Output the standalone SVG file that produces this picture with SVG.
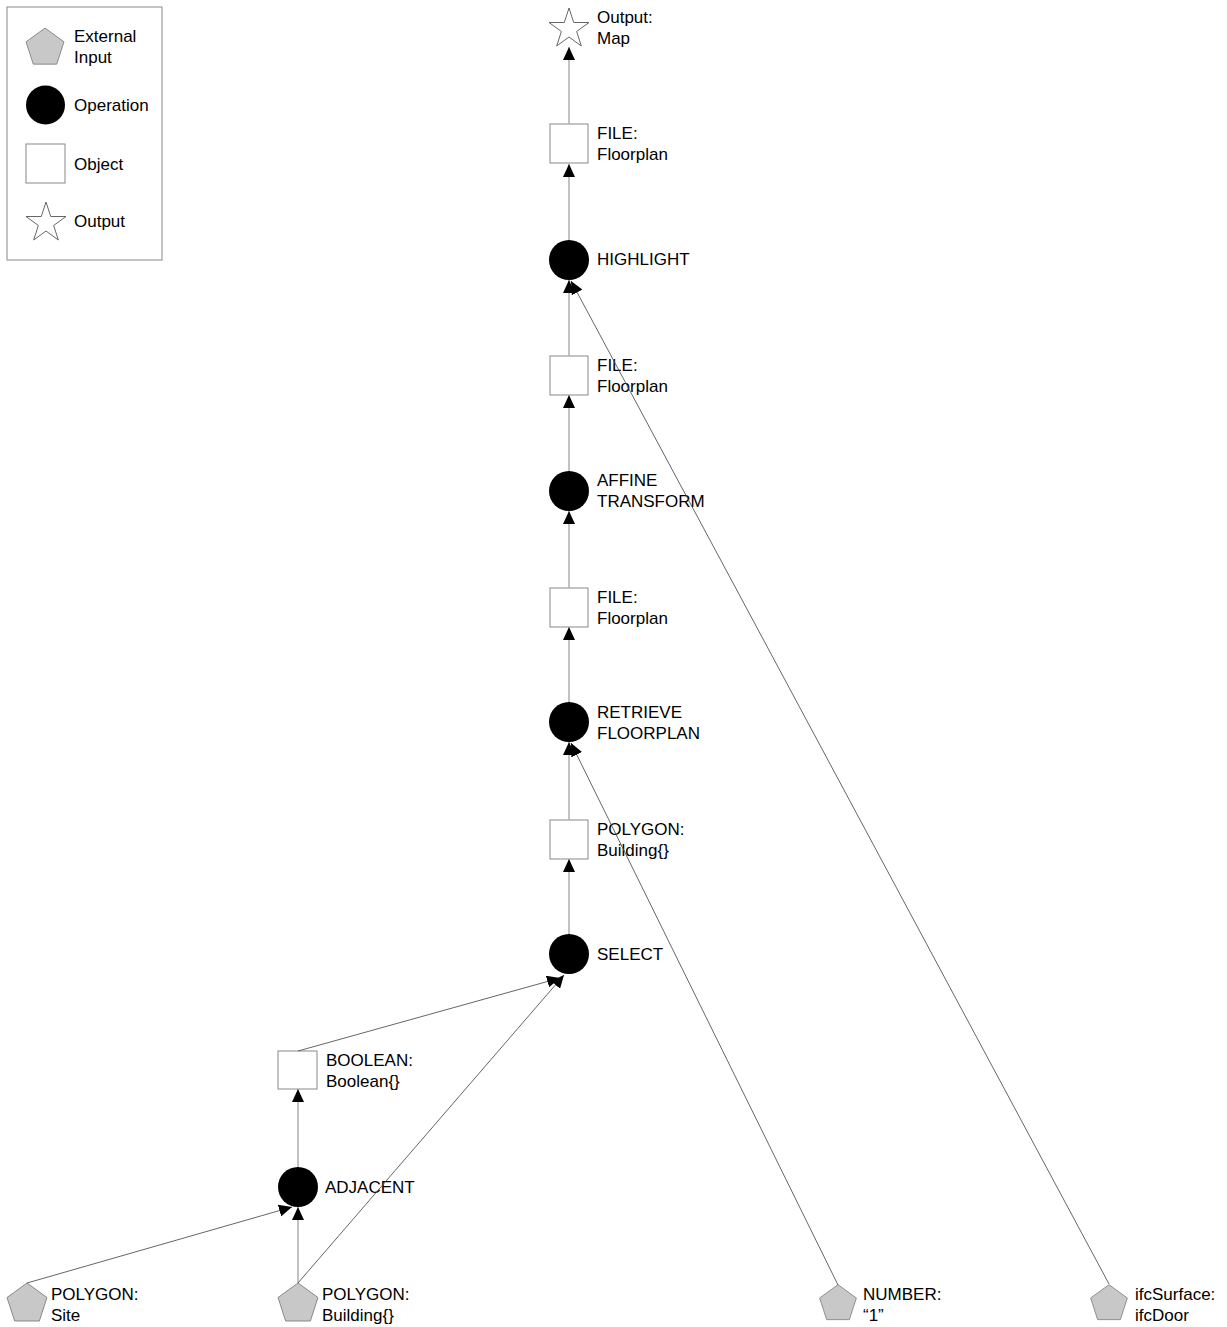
<svg xmlns="http://www.w3.org/2000/svg" xmlns:xlink="http://www.w3.org/1999/xlink" width="1227" height="1327" viewBox="0 0 1227 1327">
<style>
text{font-family:"Liberation Sans",Arial,sans-serif;font-size:17px;fill:#000}
.obj{fill:#fff;stroke:#888;stroke-width:1}
.op{fill:#000}
.inp{fill:#c8c8c8;stroke:#888;stroke-width:1}
.out{fill:#fff;stroke:#666;stroke-width:1}
.v{stroke:#b3b3b3;stroke-width:1.6;fill:none}
.d{stroke:#555;stroke-width:0.9;fill:none}
</style>
<defs>
<polygon id="pent" points="0,-21 19.97,-6.49 12.34,16.99 -12.34,16.99 -19.97,-6.49"/>
<polygon id="star" points="0,-21 4.72,-6.5 19.97,-6.49 7.64,2.48 12.34,16.99 0,8.03 -12.34,16.99 -7.64,2.48 -19.97,-6.49 -4.72,-6.5"/>
<marker id="ah" markerUnits="userSpaceOnUse" markerWidth="14" markerHeight="12" refX="13" refY="6" orient="auto" viewBox="0 0 14 12">
<path d="M0,0 L13,6 L0,12 z" fill="#000"/>
</marker>
</defs>
<rect width="1227" height="1327" fill="#fff"/>
<g id="legend">
<rect x="7" y="7" width="155" height="253" fill="#fff" stroke="#888" stroke-width="1"/>
<use xlink:href="#pent" class="inp" transform="translate(45,48) scale(0.95)"/>
<text x="74" y="42">External</text>
<text x="74" y="63">Input</text>
<circle cx="45.5" cy="105" r="19.5" class="op"/>
<text x="74" y="111">Operation</text>
<rect x="26" y="144" width="39" height="39" class="obj"/>
<text x="74" y="170">Object</text>
<use xlink:href="#star" class="out" transform="translate(46,223)"/>
<text x="74" y="227">Output</text>
</g>
<g id="n_output">
<use xlink:href="#star" class="out" transform="translate(569,29)"/>
<text x="597" y="23">Output:</text>
<text x="597" y="44">Map</text>
</g>
<g id="n_file1">
<rect x="550" y="124" width="38" height="39" class="obj"/>
<text x="597" y="139">FILE:</text>
<text x="597" y="160">Floorplan</text>
</g>
<g id="n_highlight">
<circle cx="569" cy="260" r="20" class="op"/>
<text x="597" y="265">HIGHLIGHT</text>
</g>
<g id="n_file2">
<rect x="550" y="356" width="38" height="39" class="obj"/>
<text x="597" y="371">FILE:</text>
<text x="597" y="392">Floorplan</text>
</g>
<g id="n_affine">
<circle cx="569" cy="491" r="20" class="op"/>
<text x="597" y="486">AFFINE</text>
<text x="597" y="507">TRANSFORM</text>
</g>
<g id="n_file3">
<rect x="550" y="588" width="38" height="39" class="obj"/>
<text x="597" y="603">FILE:</text>
<text x="597" y="624">Floorplan</text>
</g>
<g id="n_retrieve">
<circle cx="569" cy="722" r="20" class="op"/>
<text x="597" y="718">RETRIEVE</text>
<text x="597" y="739">FLOORPLAN</text>
</g>
<g id="n_polybuilding">
<rect x="550" y="820" width="38" height="39" class="obj"/>
<text x="597" y="835">POLYGON:</text>
<text x="597" y="856">Building{}</text>
</g>
<g id="n_select">
<circle cx="569" cy="954" r="20" class="op"/>
<text x="597" y="960">SELECT</text>
</g>
<g id="n_boolean">
<rect x="278" y="1051" width="39" height="38" class="obj"/>
<text x="326" y="1066">BOOLEAN:</text>
<text x="326" y="1087">Boolean{}</text>
</g>
<g id="n_adjacent">
<circle cx="298" cy="1187" r="20" class="op"/>
<text x="325" y="1193">ADJACENT</text>
</g>
<g id="n_site">
<use xlink:href="#pent" class="inp" transform="translate(27,1304)"/>
<text x="51" y="1300">POLYGON:</text>
<text x="51" y="1321">Site</text>
</g>
<g id="n_building">
<use xlink:href="#pent" class="inp" transform="translate(298,1304)"/>
<text x="322" y="1300">POLYGON:</text>
<text x="322" y="1321">Building{}</text>
</g>
<g id="n_number">
<use xlink:href="#pent" class="inp" transform="translate(838,1304) scale(0.92)"/>
<text x="863" y="1300">NUMBER:</text>
<text x="863" y="1321">“1”</text>
</g>
<g id="n_ifc">
<use xlink:href="#pent" class="inp" transform="translate(1109,1304) scale(0.92)"/>
<text x="1135" y="1300">ifcSurface:</text>
<text x="1135" y="1321">ifcDoor</text>
</g>
<g id="connectors">
<line x1="569" y1="124" x2="569" y2="47" class="v" marker-end="url(#ah)"/>
<line x1="569" y1="240" x2="569" y2="164" class="v" marker-end="url(#ah)"/>
<line x1="569" y1="356" x2="569" y2="280" class="v" marker-end="url(#ah)"/>
<line x1="569" y1="471" x2="569" y2="395" class="v" marker-end="url(#ah)"/>
<line x1="569" y1="588" x2="569" y2="511" class="v" marker-end="url(#ah)"/>
<line x1="569" y1="702" x2="569" y2="627" class="v" marker-end="url(#ah)"/>
<line x1="569" y1="820" x2="569" y2="742" class="v" marker-end="url(#ah)"/>
<line x1="569" y1="934" x2="569" y2="859" class="v" marker-end="url(#ah)"/>
<line x1="298" y1="1167" x2="298" y2="1089" class="v" marker-end="url(#ah)"/>
<line x1="298" y1="1283" x2="298" y2="1207" class="v" marker-end="url(#ah)"/>
<line x1="1109" y1="1284" x2="571" y2="281" class="d" marker-end="url(#ah)"/>
<line x1="838" y1="1285" x2="571" y2="743" class="d" marker-end="url(#ah)"/>
<line x1="298" y1="1283" x2="564" y2="975" class="d" marker-end="url(#ah)"/>
<line x1="298" y1="1051" x2="560" y2="978" class="d" marker-end="url(#ah)"/>
<line x1="27" y1="1283" x2="292" y2="1207" class="d" marker-end="url(#ah)"/>
</g>
</svg>
